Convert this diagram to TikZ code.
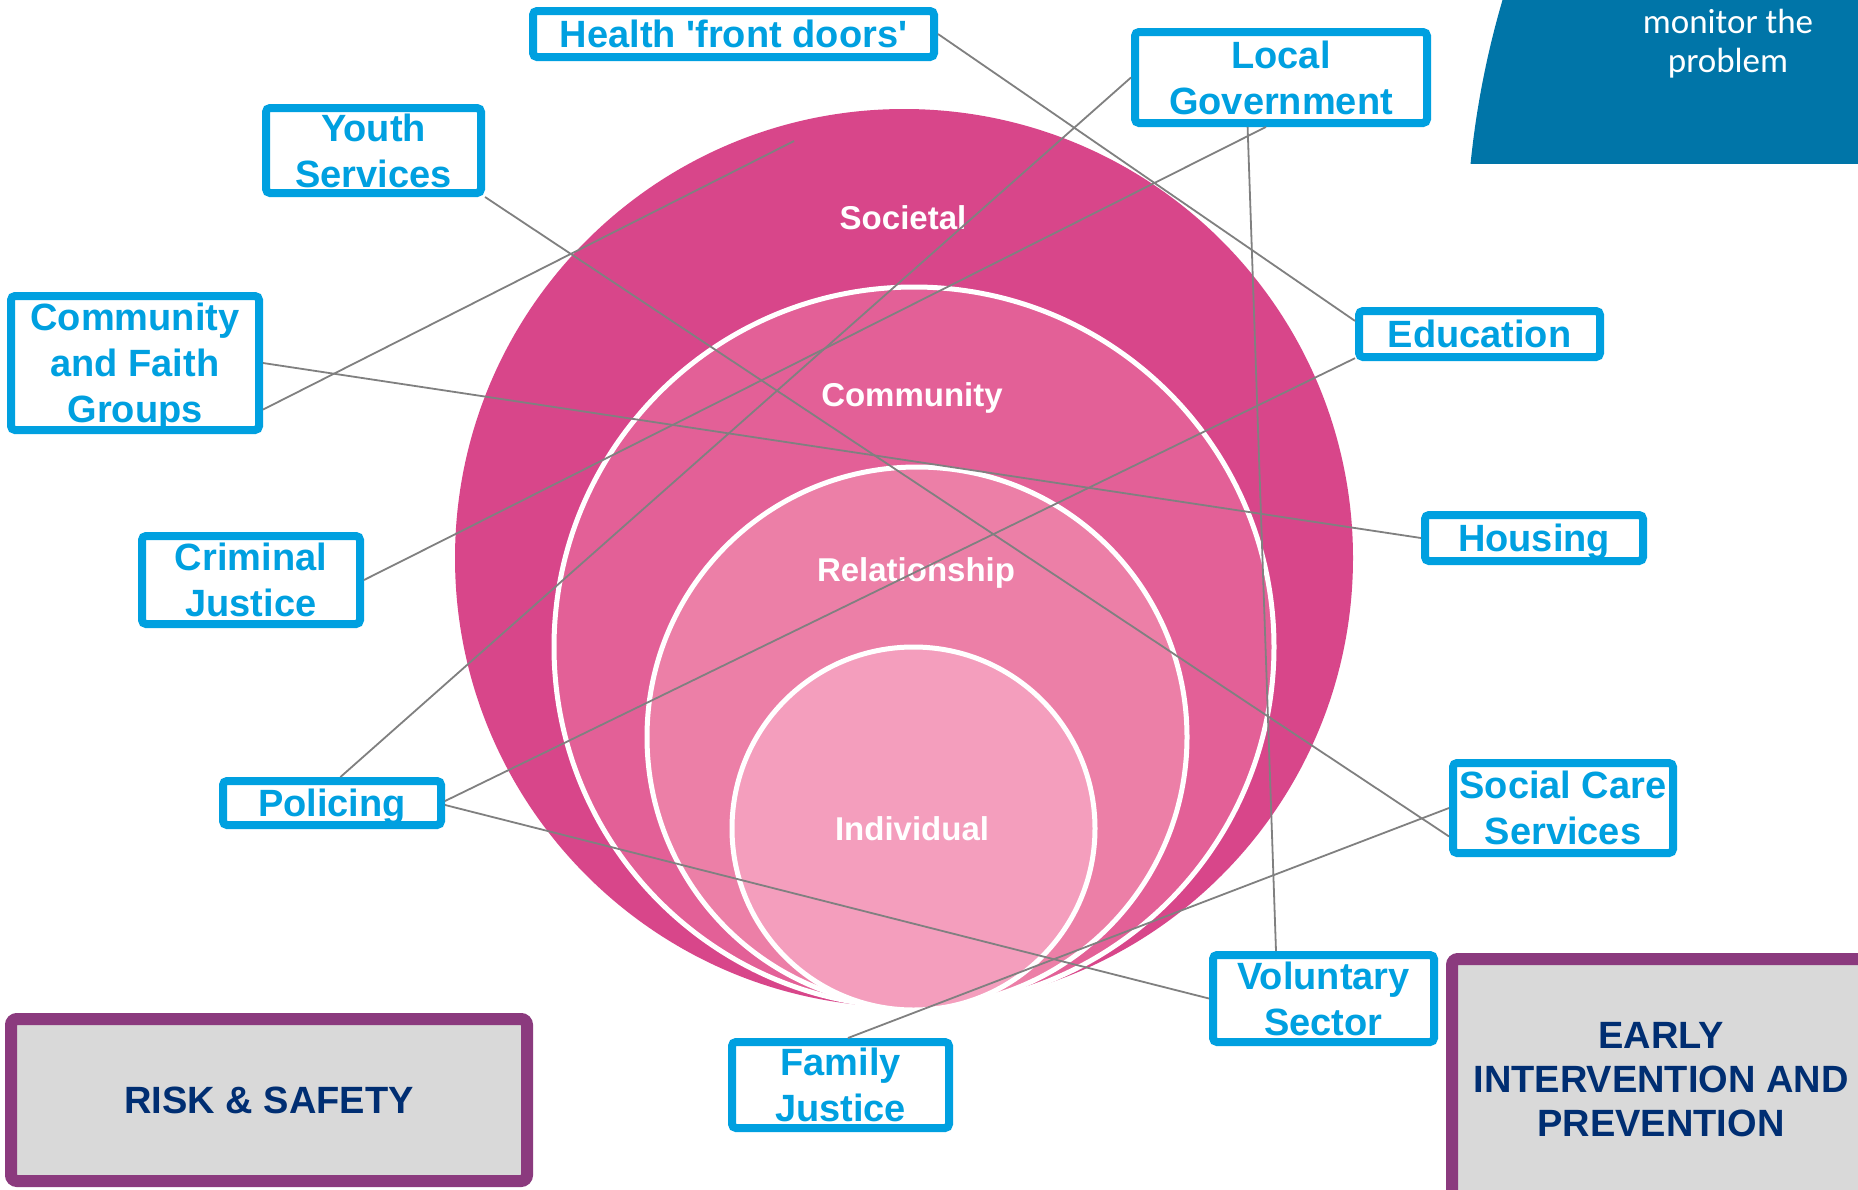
\documentclass[tikz,border=0pt]{standalone}
\usepackage{fontspec}
\setmainfont{Liberation Sans}
\newfontfamily\carlito{Carlito}
\usepackage{xcolor}
\definecolor{agencyblue}{RGB}{0,160,224}
\definecolor{ringA}{RGB}{216,70,138}
\definecolor{ringB}{RGB}{227,96,151}
\definecolor{ringC}{RGB}{236,127,167}
\definecolor{ringD}{RGB}{244,158,189}
\definecolor{linkgrey}{RGB}{128,128,128}
\definecolor{framepurple}{RGB}{139,58,126}
\definecolor{panelgrey}{RGB}{217,217,217}
\definecolor{navytext}{RGB}{0,46,114}
\definecolor{monitorblue}{RGB}{0,117,168}

\begin{document}
\begin{tikzpicture}[x=0.5pt,y=-0.5pt,
	agency/.style={draw=agencyblue,line width=4pt,rounded corners=2pt,fill=white,text=agencyblue,
		font=\bfseries\fontsize{19}{23}\selectfont,align=center,inner sep=0pt,text depth=0pt},
	ringlabel/.style={text=white,font=\bfseries\fontsize{16.5}{20}\selectfont,text height=1.4ex,text depth=0pt},
	ring/.style={draw=white,line width=2.5pt},
	link/.style={draw=linkgrey,line width=0.9pt},
	theme/.style={draw=framepurple,line width=6pt,rounded corners=3pt,fill=panelgrey,text=navytext,
		font=\bfseries\fontsize{19}{22}\selectfont,align=center}]
	\path[use as bounding box,fill=white] (0,0) rectangle (1858,1189);

	\begin{scope}
		\clip (1400,0) rectangle (1858,163);
		\fill[monitorblue] (2369,255) circle (903);
	\end{scope}
	\node[text=white,font=\carlito\fontsize{17.5}{19.5}\selectfont,align=center] (monitor) at (1728,44) {monitor the\\problem};

	\fill[ringA] (904,558) circle (449);
	\filldraw[ring,fill=ringB] (914,647) circle (360);
	\filldraw[ring,fill=ringC] (917,737) circle (270);
	\filldraw[ring,fill=ringD] (913.5,828.5) circle (181.5);
	\node[ringlabel] (societal) at (903,222) {Societal};
	\node[ringlabel] (community) at (912,399) {Community};
	\node[ringlabel] (relationship) at (916,574) {Relationship};
	\node[ringlabel] (individual) at (912,833) {Individual};

	\node[agency,minimum width=200.5pt,minimum height=23pt] (health) at (733.5,34) {Health \textquotesingle front doors\textquotesingle};
	\node[agency,minimum width=146pt,minimum height=45.5pt] (localgov) at (1281,77.5) {Local\\Government};
	\node[agency,minimum width=107.5pt,minimum height=42.5pt] (youth) at (373.5,150.5) {Youth\\Services};
	\node[agency,minimum width=124pt,minimum height=67pt] (faith) at (135,363) {Community\\and Faith\\Groups};
	\node[agency,minimum width=109pt,minimum height=44pt] (criminal) at (251,580) {Criminal\\Justice};
	\node[agency,minimum width=109pt,minimum height=22pt] (policing) at (332,803) {Policing};
	\node[agency,minimum width=120.5pt,minimum height=23pt] (edu) at (1479.5,334) {Education};
	\node[agency,minimum width=109pt,minimum height=23pt] (housing) at (1534,538) {Housing};
	\node[agency,minimum width=110pt,minimum height=45pt] (socialcare) at (1563,808) {Social Care\\Services};
	\node[agency,minimum width=110.5pt,minimum height=43.5pt] (voluntary) at (1323.5,998.5) {Voluntary\\Sector};
	\node[agency,minimum width=108.5pt,minimum height=43pt] (family) at (840.5,1085) {Family\\Justice};

	\node[theme,minimum width=258pt,minimum height=81pt] (risk) at (269,1100) {RISK \& SAFETY};
	\node[theme,minimum width=209pt,minimum height=120.5pt] (early) at (1661,1079.5) {EARLY\\INTERVENTION AND\\PREVENTION};

	\coordinate (societalend) at (794,141);
	\draw[link] (health.east) -- (edu.174);
	\draw[link] (localgov.west) -- (policing.72);
	\draw[link] (localgov.253) -- (criminal.east);
	\draw[link] (localgov.236) -- (voluntary.135);
	\draw[link] (youth.south east) -- (socialcare.194);
	\draw[link] (faith.-20) -- (societalend);
	\draw[link] (faith.east) -- (housing.west);
	\draw[link] (policing.1) -- (edu.191);
	\draw[link] (policing.-1) -- (voluntary.west);
	\draw[link] (family.81) -- (socialcare.west);
\end{tikzpicture}
\end{document}
